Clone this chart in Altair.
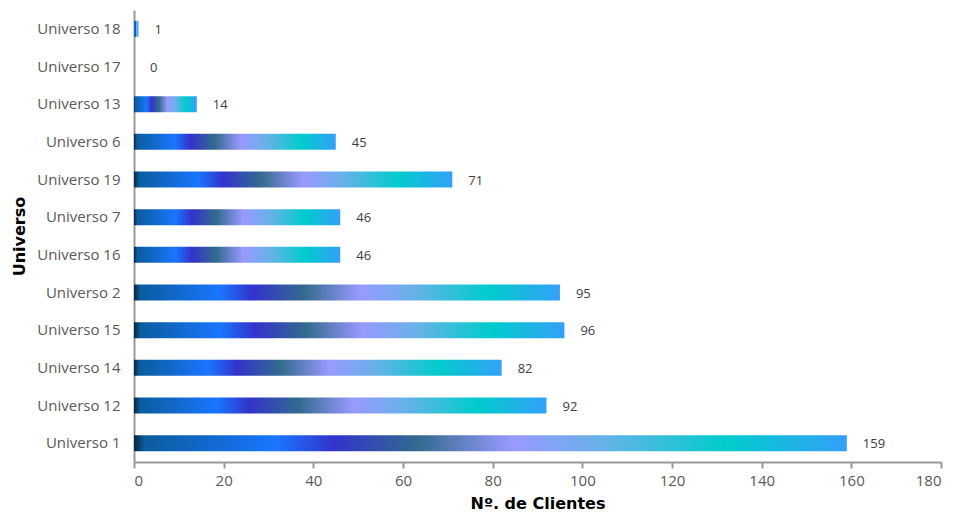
import altair as alt
import pandas as pd

categories = ["Universo 18", "Universo 17", "Universo 13", "Universo 6", "Universo 19",
              "Universo 7", "Universo 16", "Universo 2", "Universo 15", "Universo 14",
              "Universo 12", "Universo 1"]
values = [1, 0, 14, 45, 71, 46, 46, 95, 96, 82, 92, 159]
x_ticks = [0, 20, 40, 60, 80, 100, 120, 140, 160, 180]

df = pd.DataFrame({"Universo": categories, "Clientes": values})

grad = alt.Gradient(
    gradient="linear",
    x1=0, x2=1, y1=0, y2=0,
    stops=[
        alt.GradientStop(offset=0.0, color="#0a2540"),
        alt.GradientStop(offset=0.015, color="#0b5c9e"),
        alt.GradientStop(offset=0.20, color="#1976ff"),
        alt.GradientStop(offset=0.28, color="#3333cc"),
        alt.GradientStop(offset=0.40, color="#336b8f"),
        alt.GradientStop(offset=0.53, color="#9999ff"),
        alt.GradientStop(offset=0.66, color="#66b2e8"),
        alt.GradientStop(offset=0.83, color="#00cccc"),
        alt.GradientStop(offset=1.0, color="#33a0f8"),
    ],
)

y_enc = alt.Y("Universo:N", sort=categories, title="Universo",
              scale=alt.Scale(paddingInner=0.57, paddingOuter=0.285),
              axis=alt.Axis(ticks=False, labelPadding=14, labelFont="Open Sans",
                            labelFontSize=15, labelColor="#595959",
                            titleFont="DejaVu Sans", titleFontSize=16,
                            titleFontWeight="bold", titleColor="#000000",
                            titlePadding=9, domainColor="#999999", domainWidth=2))

x_enc = alt.X("Clientes:Q", title="Nº. de Clientes",
              scale=alt.Scale(domain=[0, 180], nice=False),
              axis=alt.Axis(values=x_ticks, grid=False, tickSize=6, tickColor="#999999",
                            tickWidth=2, domainColor="#999999", domainWidth=2,
                            labelFont="Open Sans", labelFontSize=15, labelColor="#595959",
                            labelPadding=5, titleFont="DejaVu Sans", titleFontSize=16,
                            titleFontWeight="bold", titleColor="#000000", titlePadding=7))

bars = alt.Chart(df).mark_bar(color=grad, size=16).encode(x=x_enc, y=y_enc)

labels = alt.Chart(df).mark_text(align="left", dx=16, dy=1, font="Open Sans",
                                 fontSize=13, color="#404040").encode(
    x="Clientes:Q", y=alt.Y("Universo:N", sort=categories), text="Clientes:Q")

chart = (bars + labels).properties(
    width=807, height=452,
    autosize=alt.AutoSizeParams(type="none"),
    padding={"left": 126, "top": 2, "right": 8, "bottom": 52},
).configure_view(stroke=None)

chart.save("out.html", embed_options={"renderer": "svg", "actions": False})
